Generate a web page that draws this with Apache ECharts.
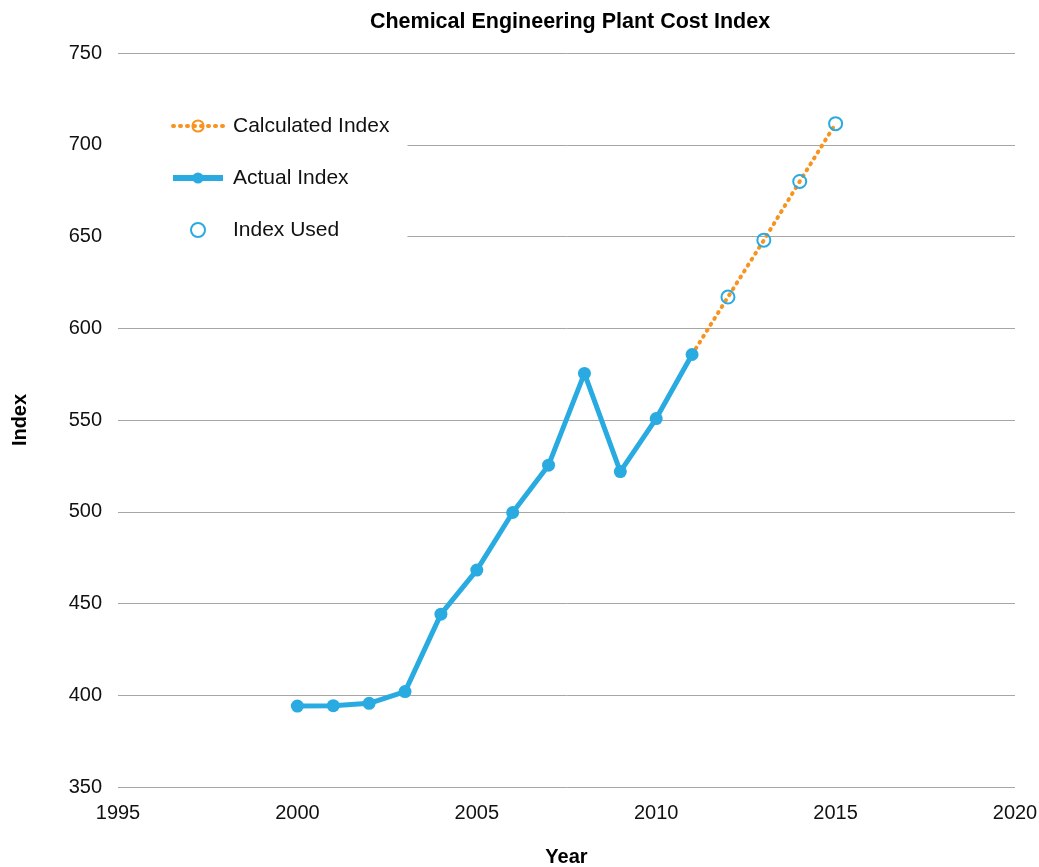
<!DOCTYPE html>
<html>
<head>
<meta charset="utf-8">
<script src="https://cdn.jsdelivr.net/npm/echarts@6/dist/echarts.min.js"></script>
<style>
  html, body { margin: 0; padding: 0; background: #fff; }
  #chart { width: 1039px; height: 867px; }
</style>
</head>
<body>
<div id="chart"></div>
<script>
// values
const actualYears = [2000, 2001, 2002, 2003, 2004, 2005, 2006, 2007, 2008, 2009, 2010, 2011]
const actualIndex = [394.1, 394.3, 395.6, 402.0, 444.2, 468.2, 499.6, 525.4, 575.4, 521.9, 550.8, 585.7]
const calcYears = [2011, 2012, 2013, 2014, 2015]
const calcIndex = [585.7, 617, 648, 680, 711.5]
const usedYears = [2012, 2013, 2014, 2015]
const usedIndex = [617, 648, 680, 711.5]

const pairs = (xs, ys) => xs.map((x, i) => [x, ys[i]])

const myChart = echarts.init(document.getElementById('chart'))
const font = 'Liberation Sans, Arial, sans-serif'
const orange = '#f7931e'
const blue = '#29abe2'
const option = {
  backgroundColor: '#fff',
  textStyle: { fontFamily: font },
  title: {
    text: 'Chemical Engineering Plant Cost Index',
    left: 565,
    textAlign: 'center',
    top: 6,
    textStyle: { fontSize: 21.5, fontWeight: 'bold', color: '#000', fontFamily: font }
  },
  legend: {
    orient: 'vertical',
    left: 118,
    top: 100,
    padding: [14, 18, 18, 52],
    backgroundColor: '#fff',
    itemWidth: 50,
    itemHeight: 14,
    itemGap: 28,
    textStyle: { fontSize: 21, lineHeight: 24, color: '#111', fontFamily: font, padding: [0, 0, 0, 5] },
    data: [
      { name: 'Calculated Index', lineStyle: { width: 4 } },
      { name: 'Actual Index', lineStyle: { width: 6 } },
      { name: 'Index Used' }
    ]
  },
  grid: { left: 118, right: 24, top: 53, bottom: 80, containLabel: false, outerBoundsMode: 'none' },
  xAxis: {
    type: 'value',
    min: 1995,
    max: 2020,
    interval: 5,
    name: 'Year',
    nameLocation: 'middle',
    nameGap: 60,
    nameTextStyle: { fontSize: 20, fontWeight: 'bold', color: '#000' },
    axisLine: { show: false },
    axisTick: { show: false },
    splitLine: { show: false },
    axisLabel: { fontSize: 20, color: '#111', margin: 16, formatter: (v) => String(v) }
  },
  yAxis: {
    type: 'value',
    min: 350,
    max: 750,
    interval: 50,
    name: 'Index',
    nameLocation: 'middle',
    nameGap: 88,
    nameTextStyle: { fontSize: 20, fontWeight: 'bold', color: '#000' },
    axisLine: { show: false },
    axisTick: { show: false },
    splitLine: { lineStyle: { color: '#a6a6a6', width: 1 } },
    axisLabel: { fontSize: 20, color: '#111', margin: 16 }
  },
  series: [
    {
      name: 'Calculated Index',
      type: 'line',
      data: pairs(calcYears, calcIndex),
      symbol: 'circle',
      symbolSize: 12,
      showSymbol: false,
      color: orange,
      lineStyle: { color: orange, width: 4, type: [1, 6], cap: 'round' },
      itemStyle: { color: 'rgba(0,0,0,0)', borderColor: orange, borderWidth: 2 },
      z: 2
    },
    {
      name: 'Actual Index',
      type: 'line',
      data: pairs(actualYears, actualIndex),
      symbol: 'circle',
      symbolSize: 13,
      color: blue,
      lineStyle: { color: blue, width: 5 },
      itemStyle: { color: blue },
      z: 3
    },
    {
      name: 'Index Used',
      type: 'scatter',
      data: pairs(usedYears, usedIndex),
      symbol: 'circle',
      symbolSize: 13,
      color: blue,
      itemStyle: { color: 'rgba(0,0,0,0)', borderColor: blue, borderWidth: 2, opacity: 1 },
      z: 4
    }
  ]
}
option && myChart.setOption(option)
</script>
</body>
</html>
